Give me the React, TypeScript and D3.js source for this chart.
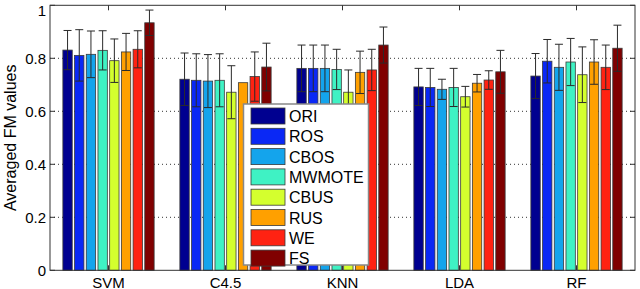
import React from 'react';
import * as d3 from 'd3';

const categories = ['SVM', 'C4.5', 'KNN', 'LDA', 'RF'];
const methods = ['ORI', 'ROS', 'CBOS', 'MWMOTE', 'CBUS', 'RUS', 'WE', 'FS'];
const colors = ['#000090', '#0a28f5', '#14a4ec', '#3ff2c4', '#d4ff2e', '#ffa000', '#ff2212', '#800000'];

const ORI = [0.831, 0.721, 0.762, 0.692, 0.733];
const ROS = [0.811, 0.717, 0.762, 0.690, 0.789];
const CBOS = [0.815, 0.714, 0.762, 0.683, 0.766];
const MWMOTE = [0.830, 0.717, 0.758, 0.690, 0.786];
const CBUS = [0.791, 0.672, 0.672, 0.655, 0.738];
const RUS = [0.824, 0.708, 0.747, 0.706, 0.786];
const WE = [0.834, 0.731, 0.756, 0.718, 0.766];
const FS = [0.934, 0.767, 0.850, 0.749, 0.838];

const ORI_sd = [0.074, 0.099, 0.088, 0.070, 0.085];
const ROS_sd = [0.097, 0.100, 0.088, 0.072, 0.082];
const CBOS_sd = [0.088, 0.100, 0.088, 0.038, 0.087];
const MWMOTE_sd = [0.074, 0.100, 0.076, 0.072, 0.089];
const CBUS_sd = [0.082, 0.100, 0.084, 0.039, 0.105];
const RUS_sd = [0.070, 0, 0.080, 0.033, 0.084];
const WE_sd = [0.070, 0.093, 0.078, 0.035, 0.084];
const FS_sd = [0.048, 0.090, 0.068, 0.081, 0.087];

const values = [ORI, ROS, CBOS, MWMOTE, CBUS, RUS, WE, FS];
const sds = [ORI_sd, ROS_sd, CBOS_sd, MWMOTE_sd, CBUS_sd, RUS_sd, WE_sd, FS_sd];
const yTicks = [0, 0.2, 0.4, 0.6, 0.8, 1];
const yTickLabels = ['0', '0.2', '0.4', '0.6', '0.8', '1'];

const W = 640, H = 289;
const L = 50, R = 635, T = 5.3, B = 270.3;
const font = '"Liberation Sans", Arial, sans-serif';

export default function App() {
  const x = d3.scaleLinear().domain([0.5, 5.5]).range([L, R]);
  const y = d3.scaleLinear().domain([0, 1]).range([B, T]);
  const unit = x(1) - x(0);
  const pitch = 0.1 * unit;
  const bw = 0.08 * unit;
  const capW = 8;

  const legX = 243.5, legY = 104, legW = 125, legH = 161;
  const rowY0 = 116, rowStep = 20.3;

  return (
    <svg width={W} height={H} style={{ position: 'absolute', left: 0, top: 0, background: '#fff' }} fontFamily={font}>
      <rect x={0} y={0} width={W} height={H} fill="#fff" />
      {/* grid */}
      {yTicks.slice(1, -1).map((t) => (
        <line key={'g' + t} x1={L} x2={R} y1={y(t)} y2={y(t)} stroke="#333" strokeWidth={1} strokeDasharray="1,3" />
      ))}
      {/* bars */}
      {methods.map((m, i) =>
        categories.map((c, j) => {
          const cx = x(j + 1) + (i - 3.5) * pitch;
          const v = values[i][j];
          return (
            <rect key={m + c} x={cx - bw / 2} y={y(v)} width={bw} height={y(0) - y(v)}
              fill={colors[i]} stroke="#3a3a3a" strokeWidth={0.8} />
          );
        })
      )}
      {/* error bars */}
      {methods.map((m, i) =>
        categories.map((c, j) => {
          const sd = sds[i][j];
          if (!sd) return null;
          const cx = x(j + 1) + (i - 3.5) * pitch;
          const v = values[i][j];
          const yt = y(v + sd), yb = y(v - sd);
          return (
            <g key={'e' + m + c} stroke="#2a2a2a" strokeWidth={1}>
              <line x1={cx} x2={cx} y1={yt} y2={yb} />
              <line x1={cx - capW / 2} x2={cx + capW / 2} y1={yt} y2={yt} />
              <line x1={cx - capW / 2} x2={cx + capW / 2} y1={yb} y2={yb} />
            </g>
          );
        })
      )}
      {/* axes box */}
      <rect x={L} y={T} width={R - L} height={B - T} fill="none" stroke="#333" strokeWidth={1} />
      {/* y ticks */}
      {yTicks.map((t, k) => (
        <g key={'yt' + t}>
          <line x1={L} x2={L + 5} y1={y(t)} y2={y(t)} stroke="#333" />
          <line x1={R} x2={R - 5} y1={y(t)} y2={y(t)} stroke="#333" />
          <text x={L - 4} y={Math.max(y(t) + 5.5, 16)} fontSize={15} textAnchor="end" fill="#000">{yTickLabels[k]}</text>
        </g>
      ))}
      {/* x ticks */}
      {categories.map((c, j) => (
        <g key={'xt' + c}>
          <line x1={x(j + 1)} x2={x(j + 1)} y1={B} y2={B - 5} stroke="#333" />
          <line x1={x(j + 1)} x2={x(j + 1)} y1={T} y2={T + 5} stroke="#333" />
          <text x={x(j + 1)} y={287.5} fontSize={15} textAnchor="middle" fill="#000">{c}</text>
        </g>
      ))}
      {/* y label */}
      <text transform={`translate(15.5,${(T + B) / 2}) rotate(-90)`} fontSize={16} textAnchor="middle" fill="#000">Averaged FM values</text>
      {/* legend */}
      <rect x={legX} y={legY} width={legW} height={legH} fill="#fff" stroke="#888" strokeWidth={1.5} />
      {methods.map((m, i) => {
        const cy = rowY0 + i * rowStep;
        return (
          <g key={'l' + m}>
            <rect x={251} y={cy - 8} width={34} height={16} fill={colors[i]} stroke="#3a3a3a" strokeWidth={0.8} />
            <text x={289} y={cy + 6} fontSize={16} fill="#000">{m}</text>
          </g>
        );
      })}
    </svg>
  );
}
